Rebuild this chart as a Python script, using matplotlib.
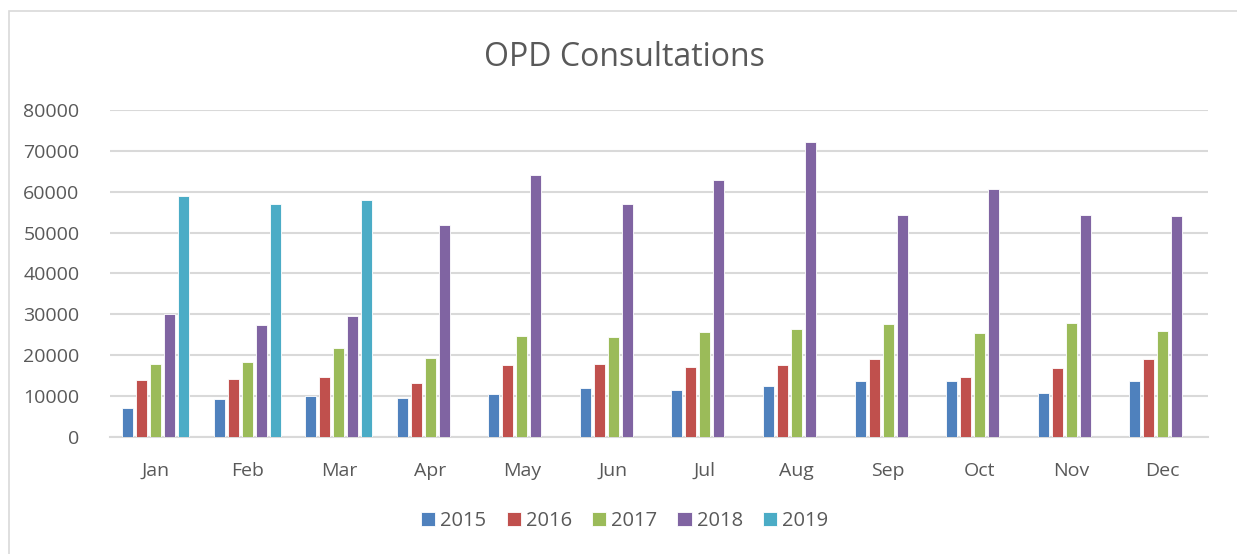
import matplotlib
matplotlib.use('Agg')
import matplotlib.pyplot as plt
import numpy as np
from matplotlib.patches import Rectangle

months = ['Jan', 'Feb', 'Mar', 'Apr', 'May', 'Jun', 'Jul', 'Aug', 'Sep', 'Oct', 'Nov', 'Dec']
years = ['2015', '2016', '2017', '2018', '2019']

y2015 = [7100, 9300, 10000, 9500, 10500, 12000, 11300, 12300, 13500, 13700, 10700, 13700]
y2016 = [13900, 14100, 14500, 13100, 17500, 17800, 17100, 17600, 19100, 14700, 16900, 18900]
y2017 = [17900, 18300, 21800, 19200, 24700, 24300, 25700, 26300, 27600, 25500, 27800, 25900]
y2018 = [30000, 27400, 29600, 51800, 64200, 57000, 62800, 72300, 54200, 60700, 54200, 54000]
y2019 = [59000, 57000, 58000, None, None, None, None, None, None, None, None, None]

colors = ['#4F81BD', '#C0504D', '#9BBB59', '#8064A2', '#4BACC6']
text_color = '#595959'

plt.rcParams['font.family'] = ['Open Sans', 'DejaVu Sans']

fig = plt.figure(figsize=(12.37, 5.54), dpi=100)
ax = fig.add_axes([0.0889, 0.212, 0.8880, 0.589])

# outer chart border
fig.patches.append(Rectangle((9 / 1237, -0.01), 1.05, 1 - 11 / 554 + 0.01,
                             transform=fig.transFigure, fill=False,
                             edgecolor='#D9D9D9', linewidth=1.2))

x = np.arange(len(months))
step = 0.153
width = 0.12
series = [y2015, y2016, y2017, y2018, y2019]
for i, vals in enumerate(series):
    v = np.array([np.nan if a is None else a for a in vals], dtype=float)
    ax.bar(x + (i - 2) * step, v, width=width, color=colors[i],
           edgecolor='white', linewidth=0.6, label=years[i], zorder=3)

ax.set_xlim(-0.5, 11.5)
ax.set_ylim(0, 80000)
ax.set_yticks(range(0, 80001, 10000))
ax.set_xticks(x)
ax.set_xticklabels(months)
ax.grid(axis='y', color='#D9D9D9', linewidth=1.5, zorder=0)
ax.set_axisbelow(True)
for s in ['top', 'right', 'left']:
    ax.spines[s].set_visible(False)
ax.spines['bottom'].set_color('#D9D9D9')
ax.spines['bottom'].set_linewidth(1.5)
ax.tick_params(axis='both', length=0, labelsize=14, colors=text_color)
ax.tick_params(axis='y', pad=22)
ax.tick_params(axis='x', pad=18)

fig.text(0.505, 0.897, 'OPD Consultations', ha='center', va='center',
         fontsize=23, color=text_color)

leg = fig.legend(loc='center', bbox_to_anchor=(0.505, 0.06), ncol=5, frameon=False,
                 fontsize=14.5, handlelength=0.7, handleheight=0.7,
                 handletextpad=0.25, columnspacing=1.0)
for t in leg.get_texts():
    t.set_color(text_color)

plt.savefig('out.png', dpi=100)
